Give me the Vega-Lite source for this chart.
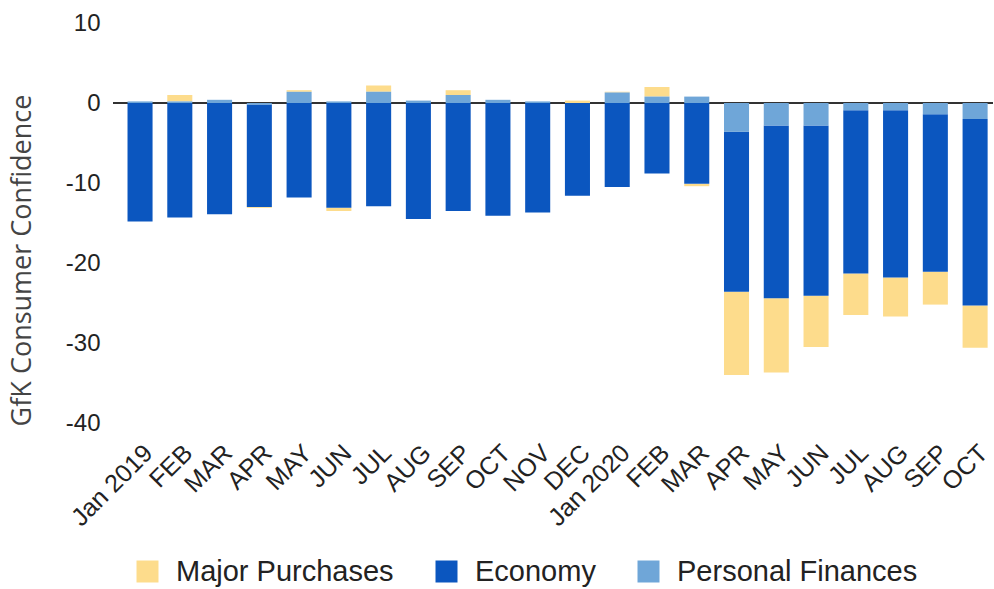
{
  "$schema": "https://vega.github.io/schema/vega-lite/v6.json",
  "autosize": {"type": "none"},
  "width": 880,
  "height": 400,
  "padding": {"left": 113, "top": 23, "right": 1, "bottom": 166},
  "background": "white",
  "config": {"view": {"stroke": null}, "font": "Liberation Sans"},
  "data": {"values": [
    {"month": "2019-01", "Major Purchases": 0, "Economy": -14.8, "Personal Finances": 0.2},
    {"month": "2019-02", "Major Purchases": 0.8, "Economy": -14.3, "Personal Finances": 0.2},
    {"month": "2019-03", "Major Purchases": 0, "Economy": -13.9, "Personal Finances": 0.4},
    {"month": "2019-04", "Major Purchases": -0.1, "Economy": -12.8, "Personal Finances": -0.2},
    {"month": "2019-05", "Major Purchases": 0.2, "Economy": -11.8, "Personal Finances": 1.4},
    {"month": "2019-06", "Major Purchases": -0.4, "Economy": -13.1, "Personal Finances": 0.2},
    {"month": "2019-07", "Major Purchases": 0.8, "Economy": -12.9, "Personal Finances": 1.4},
    {"month": "2019-08", "Major Purchases": 0, "Economy": -14.5, "Personal Finances": 0.3},
    {"month": "2019-09", "Major Purchases": 0.6, "Economy": -13.5, "Personal Finances": 1.0},
    {"month": "2019-10", "Major Purchases": 0, "Economy": -14.1, "Personal Finances": 0.4},
    {"month": "2019-11", "Major Purchases": 0, "Economy": -13.7, "Personal Finances": 0.2},
    {"month": "2019-12", "Major Purchases": 0.3, "Economy": -11.6, "Personal Finances": 0},
    {"month": "2020-01", "Major Purchases": 0.1, "Economy": -10.5, "Personal Finances": 1.3},
    {"month": "2020-02", "Major Purchases": 1.2, "Economy": -8.8, "Personal Finances": 0.8},
    {"month": "2020-03", "Major Purchases": -0.3, "Economy": -10.1, "Personal Finances": 0.8},
    {"month": "2020-04", "Major Purchases": -10.4, "Economy": -20.0, "Personal Finances": -3.6},
    {"month": "2020-05", "Major Purchases": -9.3, "Economy": -21.6, "Personal Finances": -2.8},
    {"month": "2020-06", "Major Purchases": -6.4, "Economy": -21.3, "Personal Finances": -2.8},
    {"month": "2020-07", "Major Purchases": -5.2, "Economy": -20.4, "Personal Finances": -0.9},
    {"month": "2020-08", "Major Purchases": -4.9, "Economy": -20.9, "Personal Finances": -0.9},
    {"month": "2020-09", "Major Purchases": -4.1, "Economy": -19.7, "Personal Finances": -1.4},
    {"month": "2020-10", "Major Purchases": -5.3, "Economy": -23.3, "Personal Finances": -2.0}
  ]},
  "transform": [
    {"fold": ["Major Purchases", "Economy", "Personal Finances"], "as": ["series", "value"]},
    {"calculate": "indexof(['Personal Finances','Economy','Major Purchases'], datum.series)", "as": "ord"}
  ],
  "layer": [
    {
      "mark": {"type": "rule", "color": "#333333", "strokeWidth": 1.5},
      "encoding": {"y": {"datum": 0, "type": "quantitative"}}
    },
    {
      "mark": {"type": "bar"},
      "encoding": {
        "x": {
          "field": "month", "type": "ordinal",
          "scale": {"paddingInner": 0.37, "paddingOuter": 0.25, "align": 0.73},
          "axis": {
            "title": null, "ticks": false, "domain": false, "grid": false,
            "labelAngle": -45, "labelFontSize": 25, "labelColor": "#222222", "labelPadding": 17,
            "labelExpr": "substring(datum.value,5,7)=='01' ? 'Jan ' + substring(datum.value,0,4) : ['JAN','FEB','MAR','APR','MAY','JUN','JUL','AUG','SEP','OCT','NOV','DEC'][toNumber(substring(datum.value,5,7))-1]"
          }
        },
        "y": {
          "field": "value", "type": "quantitative", "stack": "zero",
          "scale": {"domain": [-40, 10], "nice": false},
          "axis": {
            "title": "GfK Consumer Confidence", "values": [-40, -30, -20, -10, 0, 10],
            "labelExpr": "datum.value + ''",
            "ticks": false, "domain": false, "gridColor": "#cccccc", "gridWidth": 1,
            "labelFontSize": 24, "labelColor": "#222222", "labelPadding": 13,
            "titleFont": "Open Sans", "titleFontSize": 27, "titleFontWeight": "normal", "titleColor": "#444444",
            "titleAngle": -90, "titleX": -91, "titleY": 237, "titleAlign": "center", "titleBaseline": "middle"
          }
        },
        "color": {
          "field": "series", "type": "nominal",
          "scale": {"domain": ["Major Purchases", "Economy", "Personal Finances"], "range": ["#fddc8c", "#0b56bf", "#6fa6d8"]},
          "legend": {
            "title": null, "orient": "none", "legendX": 20, "legendY": 534, "direction": "horizontal",
            "gridAlign": "none", "labelLimit": 0,
            "symbolType": "square", "symbolSize": 484, "symbolStrokeWidth": 0,
            "labelFontSize": 29, "labelColor": "#222222", "labelOffset": 14, "columnPadding": 38
          }
        },
        "order": {"field": "ord", "type": "quantitative"}
      }
    }
  ]
}
